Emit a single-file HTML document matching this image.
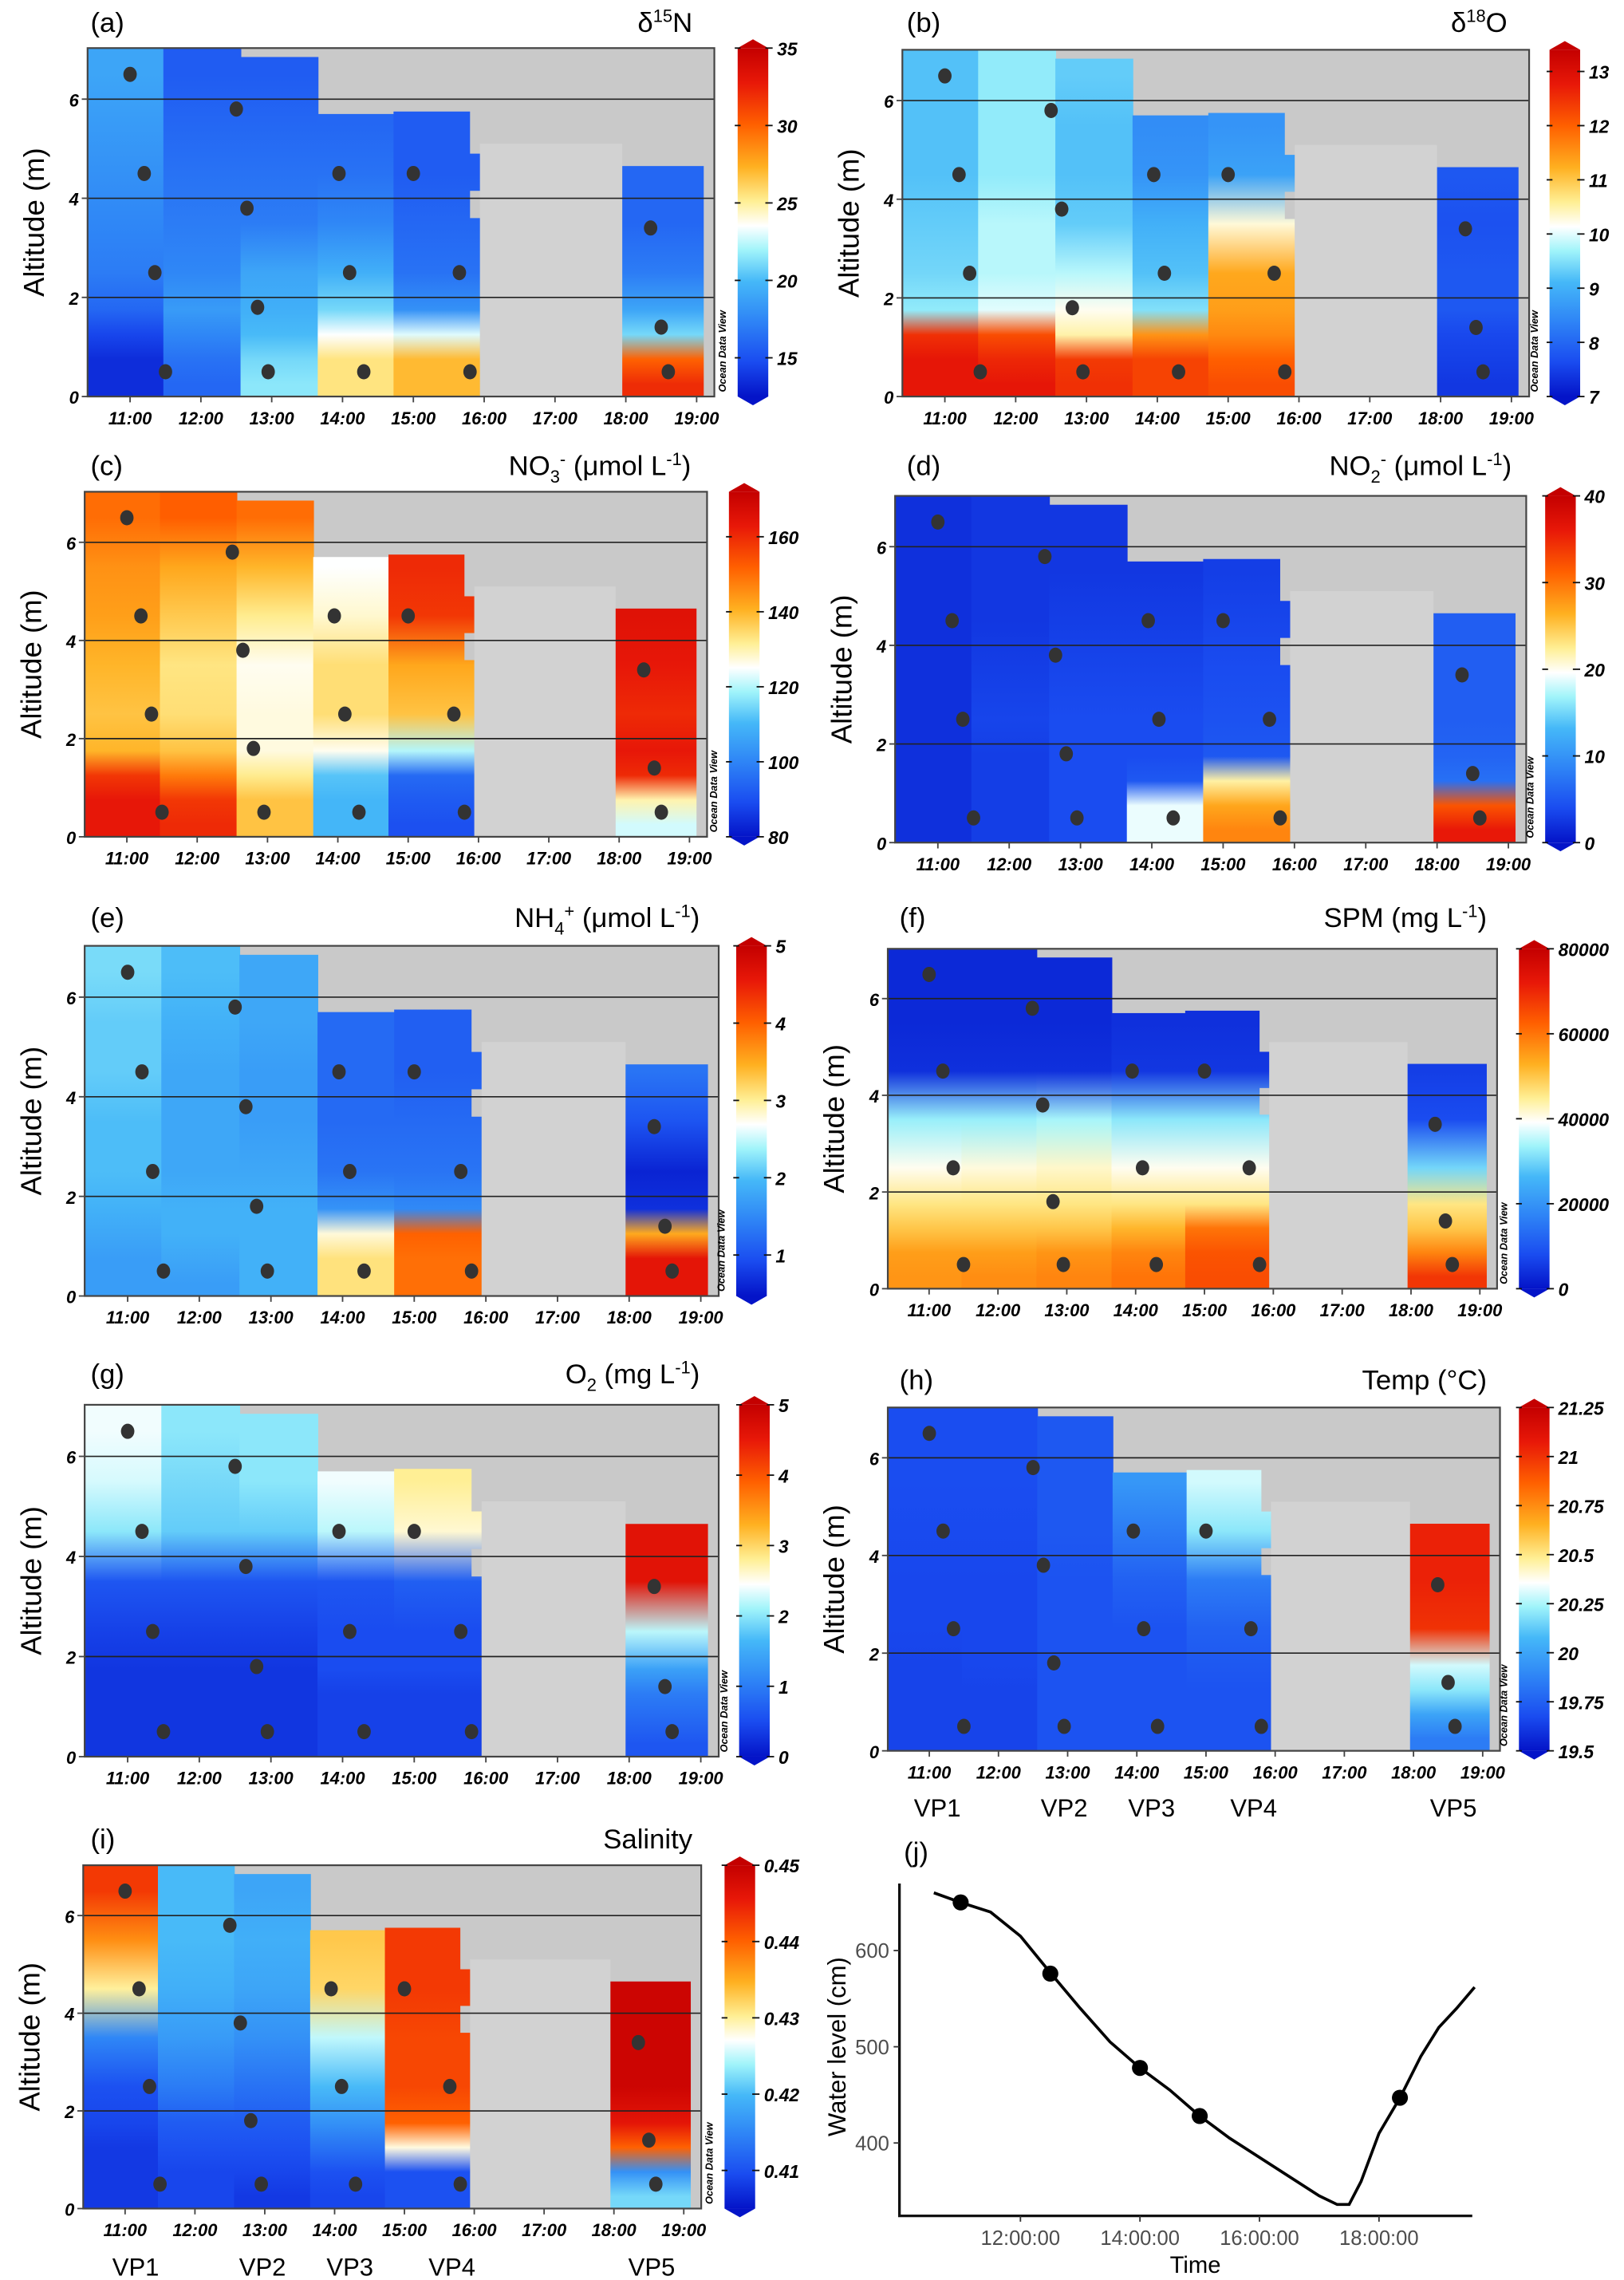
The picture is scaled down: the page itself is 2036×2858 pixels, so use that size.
<!DOCTYPE html>
<html><head><meta charset="utf-8"><style>
html,body{margin:0;padding:0;background:#fff}
svg{display:block}
text{font-family:"Liberation Sans",sans-serif}
.lab{font-size:19px}
.ttl{font-size:19px}
.tk{font-size:12px;font-weight:bold;font-style:italic}
.cbt{font-size:12.5px;font-weight:bold;font-style:italic}
.ax{font-size:20px}
.vp{font-size:17px}
</style></head><body>
<svg id="fig" xmlns="http://www.w3.org/2000/svg" width="2036" height="2858" viewBox="0 0 1114 1564">
<rect x="0" y="0" width="1114" height="1564" fill="#fff"/>
<defs id="defs"></defs>
<g id="plots"></g>
<g id="static">
<text class="lab" x="62" y="22">(a)</text>
<text class="ttl" x="475" y="22" text-anchor="end">δ<tspan font-size="12" dy="-7">15</tspan><tspan dy="7">N</tspan></text>
<text class="lab" x="622" y="22">(b)</text>
<text class="ttl" x="1034" y="22" text-anchor="end">δ<tspan font-size="12" dy="-7">18</tspan><tspan dy="7">O</tspan></text>
<text class="lab" x="62" y="326">(c)</text>
<text class="ttl" x="474" y="326" text-anchor="end">NO<tspan font-size="12" dy="5">3</tspan><tspan font-size="12" dy="-12">-</tspan><tspan dy="7"> (μmol L</tspan><tspan font-size="12" dy="-7">-1</tspan><tspan dy="7">)</tspan></text>
<text class="lab" x="622" y="326">(d)</text>
<text class="ttl" x="1037" y="326" text-anchor="end">NO<tspan font-size="12" dy="5">2</tspan><tspan font-size="12" dy="-12">-</tspan><tspan dy="7"> (μmol L</tspan><tspan font-size="12" dy="-7">-1</tspan><tspan dy="7">)</tspan></text>
<text class="lab" x="62" y="636">(e)</text>
<text class="ttl" x="480" y="636" text-anchor="end">NH<tspan font-size="12" dy="5">4</tspan><tspan font-size="12" dy="-12">+</tspan><tspan dy="7"> (μmol L</tspan><tspan font-size="12" dy="-7">-1</tspan><tspan dy="7">)</tspan></text>
<text class="lab" x="617" y="636">(f)</text>
<text class="ttl" x="1020" y="636" text-anchor="end">SPM (mg L<tspan font-size="12" dy="-7">-1</tspan><tspan dy="7">)</tspan></text>
<text class="lab" x="62" y="949">(g)</text>
<text class="ttl" x="480" y="949" text-anchor="end">O<tspan font-size="12" dy="5">2</tspan><tspan dy="-5"> (mg L</tspan><tspan font-size="12" dy="-7">-1</tspan><tspan dy="7">)</tspan></text>
<text class="lab" x="617" y="953">(h)</text>
<text class="ttl" x="1020" y="953" text-anchor="end">Temp (°C)</text>
<text class="lab" x="62" y="1268">(i)</text>
<text class="ttl" x="475" y="1268" text-anchor="end">Salinity</text>
<text class="lab" x="620" y="1277">(j)</text>
<g>
<text class="vp" x="643" y="1246" text-anchor="middle">VP1</text>
<text class="vp" x="730" y="1246" text-anchor="middle">VP2</text>
<text class="vp" x="790" y="1246" text-anchor="middle">VP3</text>
<text class="vp" x="860" y="1246" text-anchor="middle">VP4</text>
<text class="vp" x="997" y="1246" text-anchor="middle">VP5</text>
</g>
<g>
<text class="vp" x="93" y="1561" text-anchor="middle">VP1</text>
<text class="vp" x="180" y="1561" text-anchor="middle">VP2</text>
<text class="vp" x="240" y="1561" text-anchor="middle">VP3</text>
<text class="vp" x="310" y="1561" text-anchor="middle">VP4</text>
<text class="vp" x="447" y="1561" text-anchor="middle">VP5</text>
</g>
</g>
</svg>
<script>
// ---- data ----
const ALTS = [0.25, 0.75, 1.25, 1.75, 2.5, 3.5, 4.5, 5.5, 6.5];
const colEdges = [[10.4, 11.47], [11.47, 12.56], [12.56, 13.65], [13.65, 14.72], [14.72, 15.79], [17.95, 19.09]];
const colTops = [7.03, 7.03, 6.85, 5.7, 5.75, 4.65];
const pointsT = [11.0, 11.2, 11.35, 11.5, 12.5, 12.65, 12.8, 12.95, 13.95, 14.1, 14.3, 15.0, 15.65, 15.8, 18.35, 18.5, 18.6];
const pointsZ = [6.5, 4.5, 2.5, 0.5, 5.8, 3.8, 1.8, 0.5, 4.5, 2.5, 0.5, 4.5, 2.5, 0.5, 3.4, 1.4, 0.5];
const timeTicks = [11, 12, 13, 14, 15, 16, 17, 18, 19];
const altTicks = [0, 2, 4, 6];

const valsA = [[13.5,13.5,14.5,16,17,17.5,18,18.5,19],[16,16.5,17.5,18.5,17.5,17,16.5,16,15.5],[21.5,21,20,19.5,19,17,16.5,16,15.5],[25.5,25.5,23.5,21,19.5,17.5,16.5,16],[27,27,23,18,16.5,16,15.5,15.5],[32,30,21,19,17,16,16]];
const valsB = [[12.8,12.8,12.5,9.6,9.4,9.3,9.2,9.2,9.2],[12.8,12.6,12.2,10,9.8,9.8,9.6,9.6,9.6],[12.5,12.4,10.5,10.2,9.8,9.3,9.2,9.2,9.3],[12.3,12.3,11.5,9.5,9.2,9,8.6,8.5],[12.2,12,11.6,11.4,11.3,10.3,8.8,8.6],[7.4,7.5,7.6,7.8,7.8,7.7,7.8]];
const valsC = [[163,163,158,140,138,140,143,145,150],[160,158,148,138,134,133,137,142,152],[138,138,132,127,127,126,132,140,150],[110,110,112,126,134,134,128,125],[90,92,95,120,138,142,158,160],[122,130,160,163,160,163,165]];
const valsD = [[2,2,2,2,2,2,2,2,2],[3,3,3,3,3.5,3,2.5,2.5,2.5],[4,4,4,4,4,3.5,3,2.5,2.5],[19,19,5,4,4,3.5,3,2.5],[29,27,22,5,4.5,4,3.5,3],[36,32,7,6,5.5,5.5,5.5]];
const valsE = [[1.7,1.7,1.8,1.9,2,2,2.1,2.1,2.2],[1.7,1.8,1.9,1.9,1.8,1.8,1.8,1.9,2.0],[1.9,1.9,1.9,1.9,1.8,1.7,1.7,1.8,1.8],[3.1,3.1,2.8,1.6,1.3,1.2,1.2,1.2],[3.9,3.9,4.0,1.5,1.3,1.2,1.1,1.1],[4.6,4.6,3.5,0.7,0.6,1.0,1.3]];
const valsF = [[56000,55000,50000,46000,40000,33000,4000,3000,3000],[57000,55000,50000,46000,41000,33000,4000,3000,3000],[58000,56000,50000,46000,42000,34000,4000,3000,3000],[60000,58000,52000,46000,40000,32000,5000,4000],[65000,64000,60000,46000,40000,32000,5000,4000],[68000,58000,50000,46000,30000,8000,6000]];
const valsG = [[0.3,0.3,0.3,0.3,0.4,0.6,2.0,2.3,2.4],[0.3,0.3,0.3,0.3,0.4,0.6,1.8,1.9,2.0],[0.3,0.3,0.3,0.3,0.4,0.6,1.8,2.0,2.0],[0.4,0.4,0.4,0.5,0.5,0.6,2.2,2.4],[0.4,0.4,0.4,0.5,0.5,0.7,2.6,2.8],[0.6,0.8,1.0,1.4,2.2,4.6,4.6]];
const valsH = [[19.65,19.65,19.65,19.65,19.66,19.66,19.67,19.68,19.68],[19.65,19.65,19.65,19.66,19.66,19.66,19.67,19.68,19.68],[19.7,19.7,19.7,19.7,19.7,19.7,19.72,19.72,19.72],[19.7,19.7,19.7,19.7,19.7,19.75,19.85,19.95],[19.7,19.7,19.7,19.72,19.75,19.85,20.2,20.3],[19.85,20.0,20.2,20.3,21.0,21.05,21.05]];
const valsI = [[0.408,0.408,0.408,0.409,0.41,0.415,0.43,0.437,0.443],[0.409,0.409,0.41,0.411,0.414,0.417,0.419,0.42,0.42],[0.408,0.409,0.41,0.411,0.413,0.416,0.418,0.419,0.418],[0.409,0.41,0.413,0.416,0.42,0.425,0.432,0.433],[0.41,0.41,0.428,0.44,0.442,0.442,0.443,0.443],[0.422,0.416,0.44,0.446,0.449,0.449,0.449]];

const rangesMin = [12.5, 7, 80, 0, 0.47, 0, 0, 19.5, 0.405];
const rangesMax = [35, 13.4, 172, 40, 5, 80000, 5, 21.25, 0.45];
const ticksA = [15, 20, 25, 30, 35];
const ticksB = [7, 8, 9, 10, 11, 12, 13];
const ticksC = [80, 100, 120, 140, 160];
const ticksD = [0, 10, 20, 30, 40];
const ticksE = [1, 2, 3, 4, 5];
const ticksF = [0, 20000, 40000, 60000, 80000];
const ticksG = [0, 1, 2, 3, 4, 5];
const ticksH = [19.5, 19.75, 20, 20.25, 20.5, 20.75, 21, 21.25];
const ticksI = [0.41, 0.42, 0.43, 0.44, 0.45];

// water level panel (j)
const wlTime = [10.55, 11, 11.5, 12, 12.5, 13, 13.5, 14, 14.5, 15, 15.5, 16, 16.5, 17, 17.3, 17.5, 17.7, 18, 18.35, 18.7, 19, 19.3, 19.6];
const wlLevel = [660, 650, 640, 615, 577, 540, 505, 478, 455, 428, 405, 385, 365, 345, 336, 336, 360, 410, 447, 490, 520, 540, 562];
const wlDotTime = [11.0, 12.5, 14.0, 15.0, 18.35];
const wlDotLevel = [650, 576, 478, 428, 447];
const wlYTicks = [400, 500, 600];
const wlXTicks = [12, 14, 16, 18];

// ---- layout (not data) ----
const panels = [
 {id:'a', x0:60, x1:490, y0:272, y6:68, cb:506, vals:valsA, ticks:ticksA},
 {id:'b', x0:619, x1:1049, y0:272, y6:69, cb:1063, vals:valsB, ticks:ticksB},
 {id:'c', x0:58, x1:485, y0:574, y6:372, cb:500, vals:valsC, ticks:ticksC},
 {id:'d', x0:614, x1:1047, y0:578, y6:375, cb:1060, vals:valsD, ticks:ticksD},
 {id:'e', x0:58, x1:493, y0:889, y6:684, cb:505, vals:valsE, ticks:ticksE},
 {id:'f', x0:609, x1:1027, y0:884, y6:685, cb:1042, vals:valsF, ticks:ticksF},
 {id:'g', x0:58, x1:493, y0:1205, y6:999, cb:507, vals:valsG, ticks:ticksG},
 {id:'h', x0:609, x1:1029, y0:1201, y6:1000, cb:1042, vals:valsH, ticks:ticksH},
 {id:'i', x0:57, x1:481, y0:1515, y6:1314, cb:497, vals:valsI, ticks:ticksI}
];
const CSTOPS = [[0,'#0414c8'],[0.1,'#1a4cf0'],[0.22,'#2f86f6'],[0.33,'#45b8f8'],[0.42,'#a0f4fa'],[0.49,'#ffffff'],[0.56,'#ffef95'],[0.66,'#ffb020'],[0.78,'#ff6000'],[0.9,'#e81808'],[1,'#c40000']];
function hex(c){return [parseInt(c.substr(1,2),16),parseInt(c.substr(3,2),16),parseInt(c.substr(5,2),16)];}
function cmap(t){
  t=Math.max(0,Math.min(1,t));
  for(let i=1;i<CSTOPS.length;i++){
    if(t<=CSTOPS[i][0]){
      const a=CSTOPS[i-1],b=CSTOPS[i];const f=(t-a[0])/(b[0]-a[0]);
      const ca=hex(a[1]),cb=hex(b[1]);
      return 'rgb('+ca.map((v,k)=>Math.round(v+(cb[k]-v)*f)).join(',')+')';
    }
  }
  return CSTOPS[CSTOPS.length-1][1];
}
const NS='http://www.w3.org/2000/svg';
function mk(tag,attrs,parent){const e=document.createElementNS(NS,tag);for(const k in attrs)e.setAttribute(k,attrs[k]);if(parent)parent.appendChild(e);return e;}
const defs=document.getElementById('defs');
const root=document.getElementById('plots');

panels.forEach((p,pi)=>{
  const vmin=rangesMin[pi], vmax=rangesMax[pi];
  const pm=(p.y0-p.y6)/6;
  const X=t=>p.x0+(t-10.4)*(p.x1-p.x0)/8.85;
  const Y=z=>p.y0-z*pm;
  const top=Y(7.03), bot=p.y0;
  const g=mk('g',{},root);
  
  
  const bg=mk('rect',{x:X(10.4),y:top,width:X(19.25)-X(10.4),height:bot-top,fill:'#c9c9c9'},g);
  
  
  const lg=mk('rect',{x:X(15.94),y:Y(5.1),width:X(17.95)-X(15.94),height:Y(0)-Y(5.1),fill:'#d2d2d2'},g);
  
  
  p.vals.forEach((col,ci)=>{
    const gid='gr'+p.id+ci;
    const gr=mk('linearGradient',{id:gid,gradientUnits:'userSpaceOnUse',x1:0,x2:0,y1:Y(0),y2:Y(colTops[ci])},defs);
    col.forEach((v,k)=>{
      const off=Math.min(1,ALTS[k]/colTops[ci]);
      mk('stop',{offset:off,'stop-color':cmap((v-vmin)/(vmax-vmin))},gr);
    });
    const e=colEdges[ci];
    const r=mk('rect',{x:X(e[0]),y:Y(colTops[ci]),width:X(e[1])-X(e[0])+0.5,height:Y(0)-Y(colTops[ci]),fill:'url(#'+gid+')'},g);
    
    
    if(ci===4){
      const s1=mk('rect',{x:X(15.79),y:Y(3.6),width:X(15.94)-X(15.79),height:Y(0)-Y(3.6),fill:'url(#'+gid+')'},g);
      
      
      const s2=mk('rect',{x:X(15.79),y:Y(4.9),width:X(15.94)-X(15.79),height:Y(4.15)-Y(4.9),fill:'url(#'+gid+')'},g);
      
      
    }
  });
  [2,4,6].forEach(z=>{
    const l=mk('line',{x1:X(10.4),x2:X(19.25),y1:Y(z),y2:Y(z),stroke:'#222','stroke-width':0.9},g);
    
    
  });
  const fr=mk('rect',{x:X(10.4),y:top,width:X(19.25)-X(10.4),height:bot-top,fill:'none',stroke:'#444','stroke-width':1.2},g);
  
  
  pointsT.forEach((t,k)=>{
    const c=mk('ellipse',{cx:X(t),cy:Y(pointsZ[k]),rx:4.6,ry:5.2,fill:'#333'},g);
    
    
  });
  timeTicks.forEach(t=>{
    mk('line',{x1:X(t),x2:X(t),y1:bot,y2:bot+4,stroke:'#444','stroke-width':1},g);
    const tx=mk('text',{x:X(t),y:bot+19,'text-anchor':'middle',class:'tk'},g);
    tx.textContent=t+':00';
    
    
  });
  altTicks.forEach(z=>{
    mk('line',{x1:X(10.4)-4,x2:X(10.4),y1:Y(z),y2:Y(z),stroke:'#444','stroke-width':1},g);
    const tx=mk('text',{x:X(10.4)-6,y:Y(z)+5,'text-anchor':'end',class:'tk'},g);
    tx.textContent=z;
    
    
  });
  const yt=mk('text',{x:0,y:0,class:'ax','text-anchor':'middle',transform:'translate('+(X(10.4)-30)+','+((top+bot)/2)+') rotate(-90)'},g);
  yt.textContent='Altitude (m)';
  
  
  const od=mk('text',{x:0,y:0,'font-size':7,'font-weight':'bold','font-style':'italic',transform:'translate('+(p.cb-8)+','+(bot-3)+') rotate(-90)'},g);
  od.textContent='Ocean Data View';
  
  
  const cgid='cb'+p.id;
  const cg=mk('linearGradient',{id:cgid,x1:0,x2:0,y1:1,y2:0},defs);
  CSTOPS.forEach(s=>mk('stop',{offset:s[0],'stop-color':s[1]},cg));
  const cbg=mk('g',{},g);
  
  
  const w=21;
  mk('rect',{x:p.cb,y:top,width:w,height:bot-top,fill:'url(#'+cgid+')'},cbg);
  mk('polygon',{points:p.cb+','+top+' '+(p.cb+w/2)+','+(top-6)+' '+(p.cb+w)+','+top,fill:CSTOPS[CSTOPS.length-1][1]},cbg);
  mk('polygon',{points:p.cb+','+bot+' '+(p.cb+w/2)+','+(bot+6)+' '+(p.cb+w)+','+bot,fill:CSTOPS[0][1]},cbg);
  p.ticks.forEach(v=>{
    const yy=bot-(v-vmin)/(vmax-vmin)*(bot-top);
    mk('line',{x1:p.cb-2,x2:p.cb+2,y1:yy,y2:yy,stroke:'#111'},cbg);
    mk('line',{x1:p.cb+w-2,x2:p.cb+w+3,y1:yy,y2:yy,stroke:'#111'},cbg);
    const tx=mk('text',{x:p.cb+w+6,y:yy+5,class:'cbt'},cbg);
    tx.textContent=String(v);
    
    
  });
});

(function(){
  const g=mk('g',{},root);
  
  
  const X=t=>700+(t-12)*41;
  const Y=v=>1338-(v-600)*0.66;
  const ax=mk('path',{d:'M617,1292 L617,1520 L1010,1520',fill:'none',stroke:'#111','stroke-width':1.8},g);
  
  
  wlYTicks.forEach(v=>{
    mk('line',{x1:613,x2:617,y1:Y(v),y2:Y(v),stroke:'#333'},g);
    const tx=mk('text',{x:610,y:Y(v)+5,'text-anchor':'end','font-size':14,fill:'#4d4d4d'},g);
    tx.textContent=v;
    
    
  });
  wlXTicks.forEach(t=>{
    mk('line',{x1:X(t),x2:X(t),y1:1520,y2:1524,stroke:'#333'},g);
    const tx=mk('text',{x:X(t),y:1540,'text-anchor':'middle','font-size':14,fill:'#4d4d4d'},g);
    tx.textContent=t+':00:00';
    
    
  });
  const line=mk('path',{d:wlTime.map((t,k)=>(k?'L':'M')+X(t).toFixed(1)+','+Y(wlLevel[k]).toFixed(1)).join(' '),fill:'none',stroke:'#000','stroke-width':2},g);
  
  
  wlDotTime.forEach((t,k)=>{
    const c=mk('circle',{cx:X(t),cy:Y(wlDotLevel[k]),r:5.5,fill:'#000'},g);
    
    
  });
  const yt=mk('text',{x:0,y:0,'font-size':17,'text-anchor':'middle',transform:'translate(580,1404) rotate(-90)'},g);
  yt.textContent='Water level (cm)';
  
  
  const xt=mk('text',{x:820,y:1559,'font-size':16,'text-anchor':'middle'},g);
  xt.textContent='Time';
  
  
})();
</script>
</body></html>
